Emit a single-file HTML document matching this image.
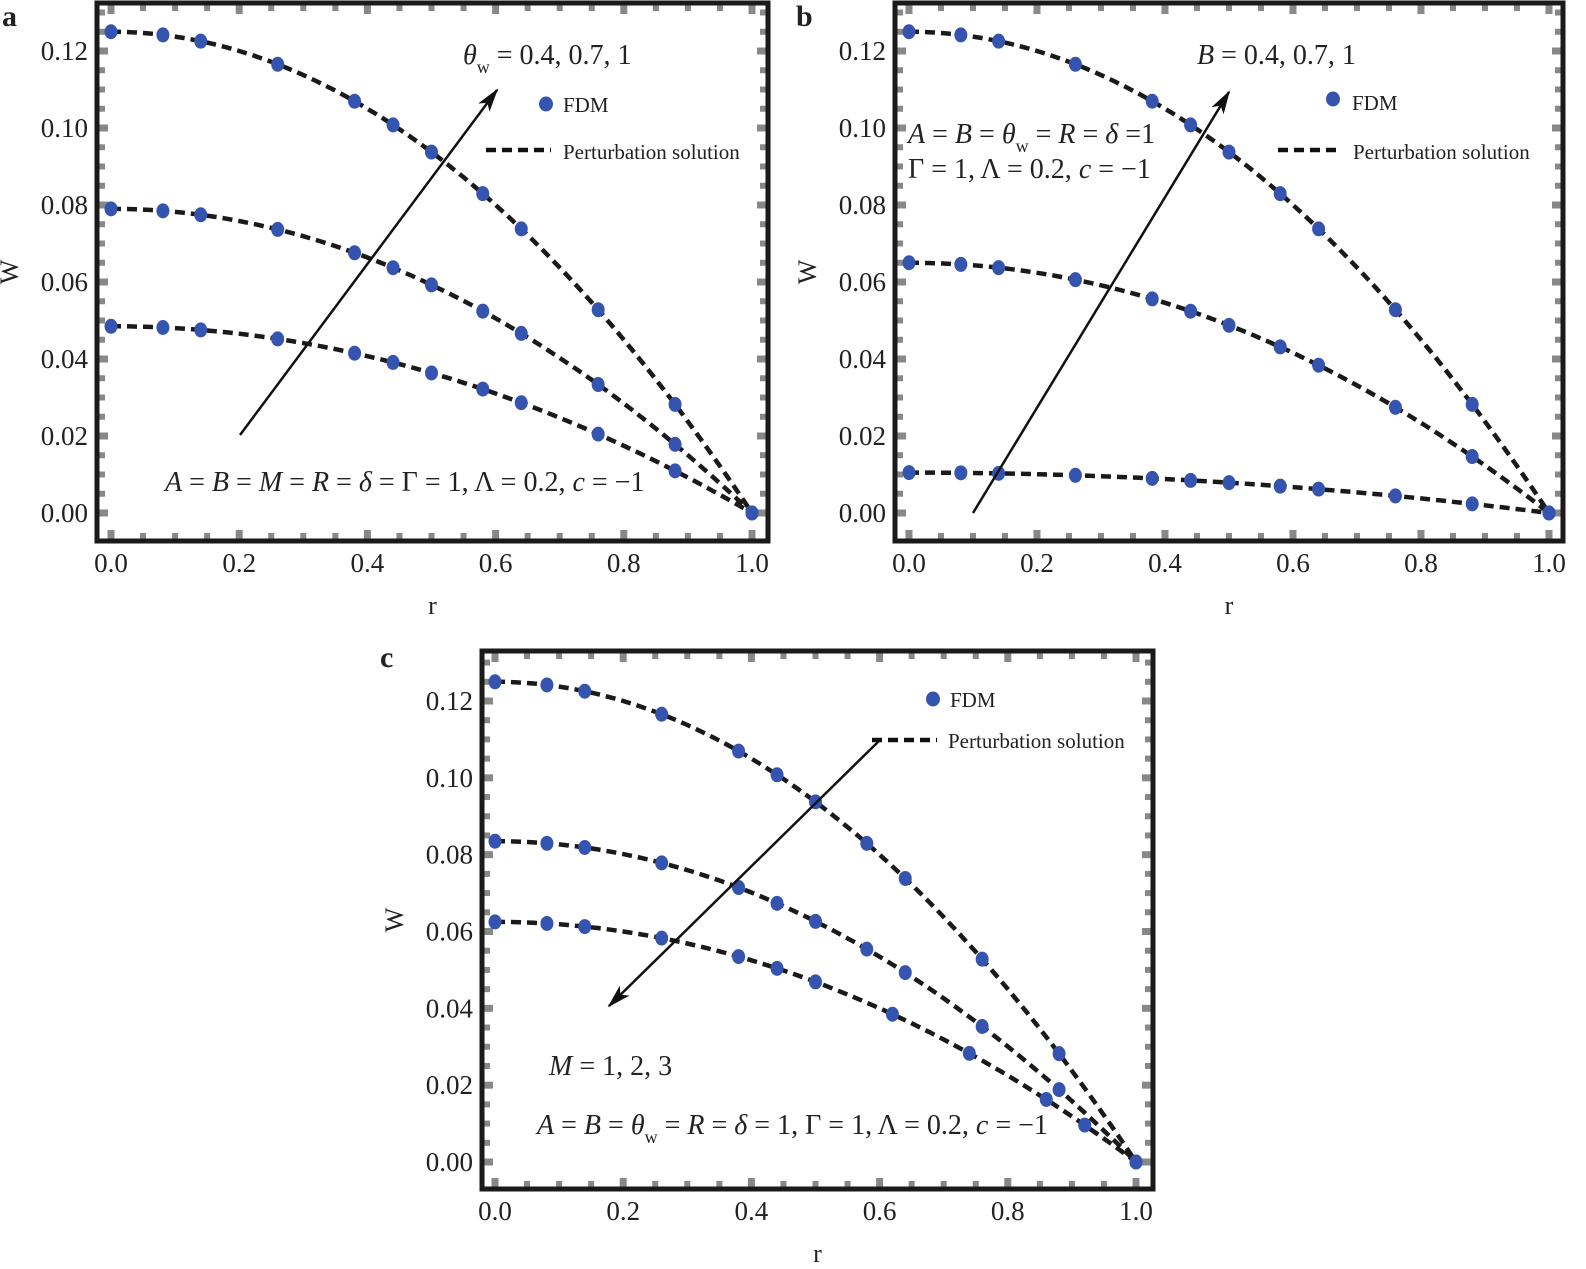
<!DOCTYPE html>
<html><head><meta charset="utf-8"><style>
html,body{margin:0;padding:0;background:#fff;}
svg{display:block;font-family:"Liberation Serif",serif;}
</style></head><body>
<svg id="s" width="1586" height="1269" viewBox="0 0 1586 1269" xmlns="http://www.w3.org/2000/svg">
<defs>
<marker id="ah2" viewBox="0 0 24 14" markerWidth="24" markerHeight="14" refX="22" refY="7" orient="auto" markerUnits="userSpaceOnUse"><path d="M0,0 L24,7 L0,14 L6,7 Z" fill="#111"/></marker></defs>
<g id="g"></g>
<g font-size="28" fill="#222">
<text x="2" y="26" font-weight="bold" font-size="30">a</text>
<text x="796" y="26" font-weight="bold" font-size="30">b</text>
<text x="380" y="667" font-weight="bold" font-size="30">c</text>
<text x="463" y="64"><tspan font-style="italic">θ</tspan><tspan font-size="18" dy="9">w</tspan><tspan dy="-9"> = 0.4, 0.7, 1</tspan></text>
<line x1="240" y1="435" x2="497" y2="90" stroke="#111" stroke-width="2.5" marker-end="url(#ah2)"/>
<ellipse cx="546" cy="104" rx="7" ry="7.5" fill="#3454b0"/>
<text x="563" y="112" font-size="21">FDM</text>
<line x1="486" y1="150" x2="551" y2="150" stroke="#111" stroke-width="4.5" stroke-dasharray="10,6"/>
<text x="563" y="159" font-size="21">Perturbation solution</text>
<text x="165" y="491"><tspan font-style="italic">A</tspan> = <tspan font-style="italic">B</tspan> = <tspan font-style="italic">M</tspan> = <tspan font-style="italic">R</tspan> = <tspan font-style="italic">δ</tspan> = Γ = 1, Λ = 0.2, <tspan font-style="italic">c</tspan> = −1</text>
<text x="1197" y="64"><tspan font-style="italic">B</tspan> = 0.4, 0.7, 1</text>
<line x1="973" y1="513" x2="1229" y2="92" stroke="#111" stroke-width="2.5" marker-end="url(#ah2)"/>
<ellipse cx="1333" cy="99" rx="7" ry="7.5" fill="#3454b0"/>
<text x="1352" y="110" font-size="21">FDM</text>
<line x1="1278" y1="150" x2="1341" y2="150" stroke="#111" stroke-width="4.5" stroke-dasharray="10,6"/>
<text x="1353" y="159" font-size="21">Perturbation solution</text>
<text x="908" y="143"><tspan font-style="italic">A</tspan> = <tspan font-style="italic">B</tspan> = <tspan font-style="italic">θ</tspan><tspan font-size="18" dy="9">w</tspan><tspan dy="-9"> = </tspan><tspan font-style="italic">R</tspan> = <tspan font-style="italic">δ</tspan> =1</text>
<text x="908" y="178">Γ = 1, Λ = 0.2, <tspan font-style="italic">c</tspan> = −1</text>
<line x1="880" y1="740" x2="609" y2="1006" stroke="#111" stroke-width="2.5" marker-end="url(#ah2)"/>
<ellipse cx="933" cy="699" rx="7" ry="7.5" fill="#3454b0"/>
<text x="950" y="707" font-size="21">FDM</text>
<line x1="872" y1="740" x2="937" y2="740" stroke="#111" stroke-width="4.5" stroke-dasharray="10,6"/>
<text x="948" y="748" font-size="21">Perturbation solution</text>
<text x="549" y="1075"><tspan font-style="italic">M</tspan> = 1, 2, 3</text>
<text x="537" y="1134"><tspan font-style="italic">A</tspan> = <tspan font-style="italic">B</tspan> = <tspan font-style="italic">θ</tspan><tspan font-size="18" dy="9">w</tspan><tspan dy="-9"> = </tspan><tspan font-style="italic">R</tspan> = <tspan font-style="italic">δ</tspan> = 1, Γ = 1, Λ = 0.2, <tspan font-style="italic">c</tspan> = −1</text>
</g>
</svg>
<script>
var NS="http://www.w3.org/2000/svg",G=document.getElementById("g");
function el(t,a,txt){var e=document.createElementNS(NS,t);for(var k in a)e.setAttribute(k,a[k]);if(txt!=null)e.textContent=txt;G.appendChild(e);return e;}
var std=[0,0.081,0.14,0.26,0.38,0.44,0.5,0.58,0.64,0.76,0.88,1];
function panel(P){
 var fx=function(r){return P.x0+r*(P.x1-P.x0);}, fy=function(w){return P.y0-w*(P.y0-P.y12)/0.12;};
 for(var i=0;i<=20;i++){var r=i*0.05,x=fx(r),maj=(i%4==0);var h=maj?9:6,w=maj?7:6;
  el("rect",{x:x-w/2,y:P.T+2,width:w,height:h,fill:"#888"});
  el("rect",{x:x-w/2,y:P.B-2-h,width:w,height:h,fill:"#888"});}
 for(var j=0;j<=26;j++){var wv=j*0.005,y=fy(wv);if(y<P.T+4)continue;var maj=(j%4==0);var h=maj?9:6,w=maj?7:6;
  el("rect",{x:P.L+2,y:y-w/2,width:h,height:w,fill:"#888"});
  el("rect",{x:P.R-2-h,y:y-w/2,width:h,height:w,fill:"#888"});}
 el("rect",{x:P.L,y:P.T,width:P.R-P.L,height:P.B-P.T,fill:"none",stroke:"#1a1a1a","stroke-width":5});
 for(var k=0;k<=6;k++){var v=k*0.02;el("text",{x:P.L-9,y:fy(v)+9,"text-anchor":"end","font-size":27,fill:"#222"},v.toFixed(2));}
 for(var k=0;k<=5;k++){var v=k*0.2;el("text",{x:fx(v),y:P.B+31,"text-anchor":"middle","font-size":27,fill:"#222"},v.toFixed(1));}
 el("text",{x:(P.L+P.R)/2,y:P.B+73,"text-anchor":"middle","font-size":26,fill:"#222"},"r");
 el("text",{x:0,y:0,"text-anchor":"middle","font-size":26,fill:"#222",transform:"translate("+(P.L-79)+","+((P.T+P.B)/2)+") rotate(-90)"},"W");
 P.curves.forEach(function(c){
  var d="";for(var n=0;n<=100;n++){var r=n/100;d+=(n?"L":"M")+fx(r).toFixed(1)+","+fy(c.w*(1-r*r)).toFixed(1);}
  el("path",{d:d,fill:"none",stroke:"#1a1a1a","stroke-width":4.5,"stroke-dasharray":"10,6"});
 });
 P.curves.forEach(function(c){(c.pts||std).forEach(function(r){el("ellipse",{cx:fx(r),cy:fy(c.w*(1-r*r)),rx:6.5,ry:7.5,fill:"#3454b0"});});});
}
panel({L:97,R:768,T:3,B:541,x0:111,x1:752,y0:513,y12:51,curves:[{w:0.125},{w:0.079},{w:0.0485}]});
panel({L:895,R:1563,T:3,B:541,x0:909,x1:1549,y0:513,y12:51,curves:[{w:0.125},{w:0.065},{w:0.0105}]});
panel({L:482,R:1153,T:651,B:1189,x0:495,x1:1136,y0:1162,y12:701,curves:[{w:0.125},{w:0.0835},{w:0.0625,pts:[0,0.081,0.14,0.26,0.38,0.44,0.5,0.62,0.74,0.86,0.92,1]}]});
</script>
</body></html>
